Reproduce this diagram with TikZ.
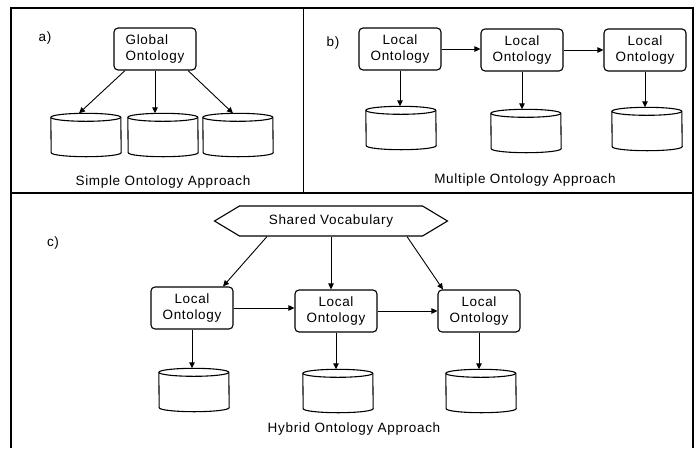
\documentclass[tikz,border=0pt]{standalone}
\usepackage{fontspec}
\newfontfamily\diafont{Liberation Sans}[LetterSpace=5]
\usetikzlibrary{shapes.symbols,arrows.meta}

\begin{document}
\begin{tikzpicture}[x=1pt,y=-1pt,
        font=\diafont\fontsize{13.5}{16}\selectfont,
        onto/.style={draw,line width=1.1pt,rounded corners=4pt,minimum width=82pt,minimum height=42pt,align=center,inner sep=0pt},
        store/.style={minimum width=70pt,minimum height=43pt,inner sep=0pt},
        rim/.style={line width=1.1pt,line join=round},
        vocab/.style={draw,line width=1.1pt,signal,signal to=west and east,signal pointer angle=62,minimum width=233pt,minimum height=30pt,inner sep=0pt},
        link/.style={-{Triangle[length=6pt,width=5.5pt]},line width=0.9pt}]
        \useasboundingbox (0,0) rectangle (694,448);
        \draw[line width=1.8pt] (11,448) -- (11,8) -- (693,8) -- (693,448);
        \draw[line width=2.5pt] (11,193) -- (693,193);
        \draw[line width=0.8pt] (303,8) -- (303,193);

        \node (tga) at (45,38) {a)};
        \node[onto,align=left] (glob) at (155,49) {Global\\Ontology};
        \node[store] (da1) at (86,135) {};
        \node[store] (da2) at (163,135) {};
        \node[store] (da3) at (238,135) {};
        \node (capa) at (163,182) {Simple Ontology Approach};

        \node (tgb) at (333,43) {b)};
        \node[onto] (lb1) at (400,49) {Local\\Ontology};
        \node[onto] (lb2) at (522,50) {Local\\Ontology};
        \node[onto] (lb3) at (645,50) {Local\\Ontology};
        \node[store] (db1) at (401,128) {};
        \node[store] (db2) at (526,131) {};
        \node[store] (db3) at (647,129) {};
        \node (capb) at (525,180) {Multiple Ontology Approach};

        \node (tgc) at (53,243) {c)};
        \node[vocab] (sv) at (331,221) {Shared Vocabulary};
        \node[onto] (lc1) at (192,308) {Local\\Ontology};
        \node[onto] (lc2) at (336,311) {Local\\Ontology};
        \node[onto] (lc3) at (479,311) {Local\\Ontology};
        \node[store] (dc1) at (194,390) {};
        \node[store] (dc2) at (338,391) {};
        \node[store] (dc3) at (481,391) {};
        \node (capc) at (354,429) {Hybrid Ontology Approach};

        \foreach \n in {da1,da2,da3,db1,db2,db3,dc1,dc2,dc3} {
            \draw[rim] ([yshift=-4pt]\n.north west) arc[start angle=180,end angle=0,x radius=35pt,y radius=4pt]
                -- ([yshift=4pt]\n.south east) arc[start angle=0,end angle=-180,x radius=35pt,y radius=4pt] -- cycle;
            \draw[rim] ([yshift=-4pt]\n.north west) arc[start angle=180,end angle=360,x radius=35pt,y radius=4pt];
        }

        \draw[link] ([xshift=-30pt]glob.south) -- ([xshift=-7pt]da1.north);
        \draw[link] (glob.south) -- (glob.south |- da2.north);
        \draw[link] ([xshift=33pt]glob.south) -- ([xshift=-5pt]da3.north);

        \draw[link] (lb1.east) -- (lb1.east -| lb2.west);
        \draw[link] (lb2.east) -- (lb2.east -| lb3.west);
        \draw[link] (lb1.south) -- (lb1.south |- db1.north);
        \draw[link] (lb2.south) -- (lb2.south |- db2.north);
        \draw[link] (lb3.south) -- (lb3.south |- db3.north);

        \draw[link] ([xshift=-64pt]sv.south) -- ([xshift=31pt]lc1.north);
        \draw[link] (sv.south) -- (sv.south |- lc2.north);
        \draw[link] ([xshift=76pt]sv.south) -- ([xshift=-36pt]lc3.north);
        \draw[link] (lc1.east) -- (lc1.east -| lc2.west);
        \draw[link] (lc2.east) -- (lc2.east -| lc3.west);
        \draw[link] (lc1.south) -- (lc1.south |- dc1.north);
        \draw[link] (lc2.south) -- (lc2.south |- dc2.north);
        \draw[link] (lc3.south) -- (lc3.south |- dc3.north);
    \end{tikzpicture}
\end{document}
